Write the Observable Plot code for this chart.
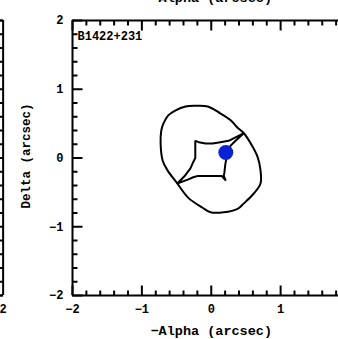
<!DOCTYPE html>
<html>
<head>
<meta charset="utf-8">
<script src="https://cdn.jsdelivr.net/npm/d3@7"></script>
<script src="https://cdn.jsdelivr.net/npm/@observablehq/plot@0.6"></script>
<style>
  html, body { margin: 0; padding: 0; background: #fff; overflow: hidden; }
  svg { overflow: hidden; display: block; }
</style>
</head>
<body>
<div id="chart"></div>
<script>
// ---- data (arcsec) ----
const ellipseX = [-0.52,-0.37,-0.23,-0.05,0.13,0.28,0.38,0.47,0.57,0.67,0.71,0.71,0.61,0.47,0.38,0.18,-0.01,-0.13,-0.33,-0.49,-0.63,-0.70,-0.73,-0.72,-0.69,-0.62];
const ellipseY = [0.69,0.75,0.76,0.75,0.65,0.55,0.44,0.36,0.21,0.01,-0.18,-0.37,-0.52,-0.66,-0.74,-0.79,-0.79,-0.72,-0.58,-0.37,-0.18,-0.04,0.21,0.40,0.50,0.62];

const causticX = [-0.23,-0.18,-0.08,0.02,0.13,0.25,0.35,0.47,0.35,0.28,0.24,0.22,0.20,0.19,0.18,0.21,0.15,0.06,-0.08,-0.19,-0.26,-0.33,-0.49,-0.39,-0.30,-0.26,-0.23,-0.23];
const causticY = [0.25,0.23,0.21,0.21,0.23,0.25,0.30,0.36,0.25,0.18,0.11,0.01,-0.11,-0.21,-0.26,-0.33,-0.26,-0.26,-0.26,-0.26,-0.28,-0.31,-0.37,-0.27,-0.15,-0.06,0.00,0.11];

const sourceX = [0.21];
const sourceY = [0.08];

const xMajor = [-2, -1, 0, 1, 2];
const xMinor = [-1.8,-1.6,-1.4,-1.2,-0.8,-0.6,-0.4,-0.2,0.2,0.4,0.6,0.8,1.2,1.4,1.6,1.8];
const xTickLabels = ["\u22122", "\u22121", "0", "1", "2"];
const yMajor = [2, 1, 0, -1, -2];
const yMinor = [1.8,1.6,1.4,1.2,0.8,0.6,0.4,0.2,-0.2,-0.4,-0.6,-0.8,-1.2,-1.4,-1.6,-1.8];
const yTickLabels = ["2", "1", "0", "\u22121", "\u22122"];

const panelLabel = "B1422+231";
const xLabel = "\u2212Alpha (arcsec)";
const yLabel = "Delta (arcsec)";

// neighbouring panel (left) right edge, in this panel's x units
const leftPanelEdge = [-3];
const leftPanelTickLabel = ["2"];

// ---- build ----
const ellipse = ellipseX.map((x, i) => ({x, y: ellipseY[i]}));
const caustic = causticX.map((x, i) => ({x, y: causticY[i]}));
const source = sourceX.map((x, i) => ({x, y: sourceY[i]}));

const font = "Liberation Mono, DejaVu Sans Mono, monospace";
const MAJ = 10, MIN = 5;

// tick glyphs (pixel length, direction)
const tickShape = (dx, dy) => ({draw(ctx) { ctx.moveTo(0, 0); ctx.lineTo(dx, dy); }});
const tickMarks = (data, xOpt, yOpt, len, dx, dy, sw) =>
  Plot.dot(data, {x: xOpt, y: yOpt, symbol: tickShape(dx * len, dy * len), fill: "none", stroke: "black", strokeWidth: sw, r: 1});

const chart = Plot.plot({
  width: 338,
  height: 339,
  style: {background: "white", fontFamily: font, fontWeight: "bold"},
  x: {domain: [-2, 2], range: [72, 349.5], axis: null},
  y: {domain: [-2, 2], range: [295, 20], axis: null},
  marks: [
    // frame of this panel
    Plot.ruleX([-2, 2], {x: d => d, y1: -2, y2: 2, stroke: "black", strokeWidth: 2}),
    Plot.ruleY([-2, 2], {y: d => d, x1: -2, x2: 2, stroke: "black", strokeWidth: 2}),
    // bottom ticks
    tickMarks(xMinor, d => d, -2, MIN, 0, -1, 2),
    tickMarks(xMajor, d => d, -2, MAJ, 0, -1, 2),
    // top ticks
    tickMarks(xMinor, d => d, 2, MIN, 0, 1, 2),
    tickMarks(xMajor, d => d, 2, MAJ, 0, 1, 2),
    // left ticks
    tickMarks(yMinor, -2, d => d, MIN, 1, 0, 2),
    tickMarks(yMajor, -2, d => d, MAJ, 1, 0, 2),
    // right ticks
    tickMarks(yMinor, 2, d => d, MIN, -1, 0, 2),
    tickMarks(yMajor, 2, d => d, MAJ + 2, -1, 0, 2),
    // neighbouring panel edge (left)
    Plot.ruleX(leftPanelEdge, {x: d => d, y1: -2, y2: 2, stroke: "black", strokeWidth: 2}),
    Plot.ruleY([-2, 2], {y: d => d, x1: -4, x2: leftPanelEdge[0], stroke: "black", strokeWidth: 2}),
    tickMarks(yMinor, leftPanelEdge[0], d => d, MIN, -1, 0, 2),
    tickMarks(yMajor, leftPanelEdge[0], d => d, MAJ, -1, 0, 2),
    Plot.text(leftPanelTickLabel, {x: leftPanelEdge[0], y: -2, text: d => d, dy: 14, fontSize: 12, fill: "black"}),
    // tick labels
    Plot.text(xMajor, {x: d => d, y: -2, text: (d, i) => xTickLabels[i], dy: 14, fontSize: 12, fill: "black"}),
    Plot.text(yMajor, {x: -2, y: d => d, text: (d, i) => yTickLabels[i], dx: -9, textAnchor: "end", fontSize: 12, fill: "black"}),
    // axis labels
    Plot.text([xLabel], {x: 0, y: -2, text: d => d, dy: 35, fontSize: 13.5, fill: "black"}),
    Plot.text([xLabel], {x: 0, y: 2, text: d => d, dy: -23, fontSize: 13.5, fill: "black"}),
    Plot.text([yLabel], {x: -2, y: 0, text: d => d, dx: -47, dy: -2, rotate: -90, fontSize: 12.5, fill: "black"}),
    Plot.text([panelLabel], {x: -2, y: 2, text: d => d, dx: 5, dy: 16, textAnchor: "start", fontSize: 12, fill: "black"}),
    // curves
    Plot.line(ellipse, {x: "x", y: "y", curve: "catmull-rom-closed", stroke: "black", strokeWidth: 2}),
    Plot.line(caustic, {x: "x", y: "y", curve: "linear-closed", stroke: "black", strokeWidth: 2, strokeLinejoin: "miter"}),
    // source
    Plot.dot(source, {x: "x", y: "y", r: 7.5, fill: "#0a22d4", stroke: "none"})
  ]
});
document.getElementById("chart").appendChild(chart);
</script>
</body>
</html>
